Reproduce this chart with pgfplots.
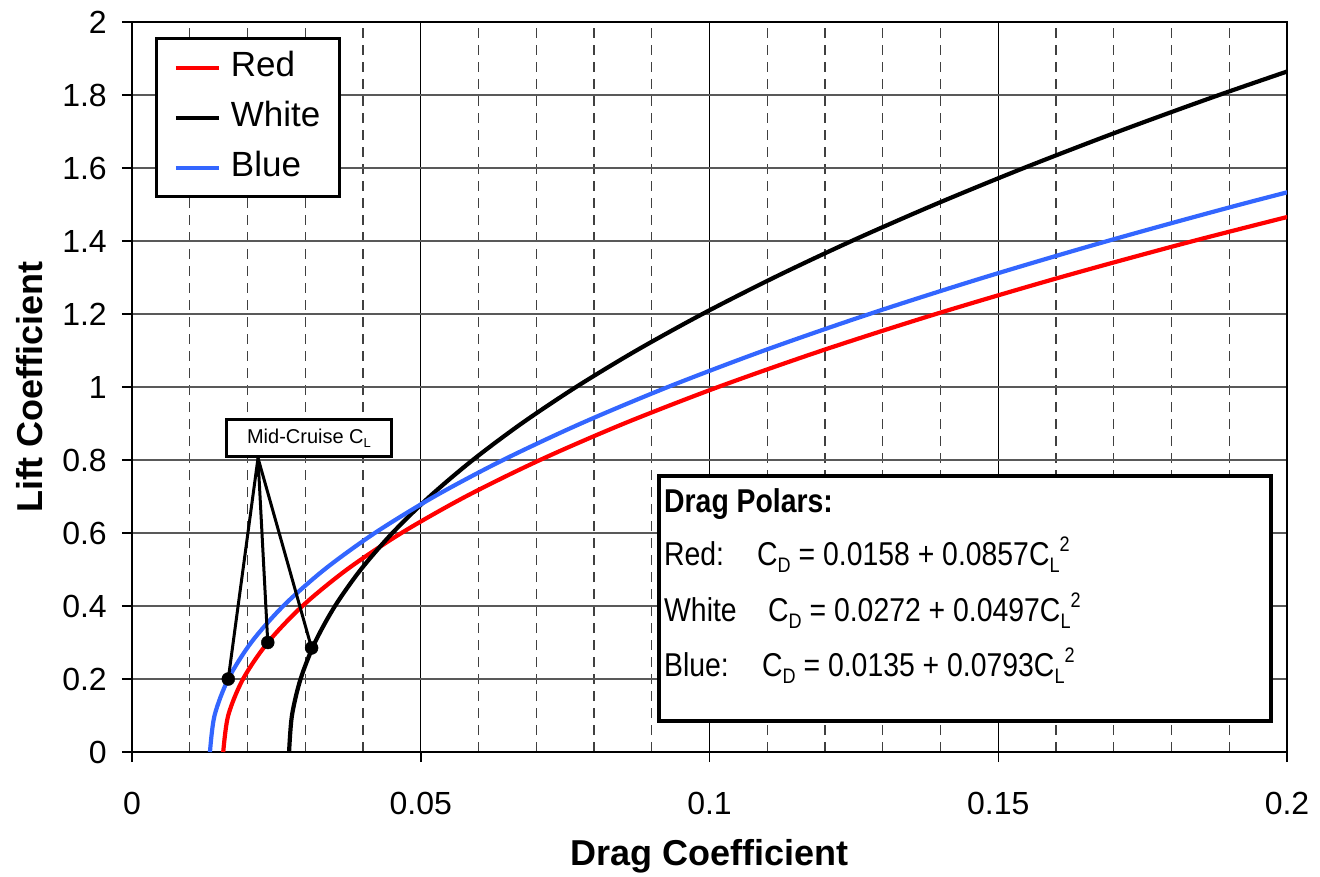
\documentclass[border=0pt]{standalone}
\usepackage{fontspec}
\setmainfont{Liberation Sans}
\newfontfamily\narrowfont[FakeStretch=0.86]{Liberation Sans}
\usepackage{pgfplots}
\pgfplotsset{compat=1.18}
\definecolor{cred}{RGB}{255,0,0}
\definecolor{cblue}{RGB}{51,102,255}
\newcommand\lo[1]{\raisebox{-7pt}{\fontsize{21}{21}\selectfont #1}}
\newcommand\hi[1]{\raisebox{14pt}{\fontsize{21}{21}\selectfont #1}}
\begin{document}
\begin{tikzpicture}
\begin{axis}[
  at={(0pt,0pt)}, anchor=south west,
  scale only axis, width=1155pt, height=730pt,
  xmin=0, xmax=0.2, ymin=0, ymax=2,
  xtick={0,0.05,0.1,0.15,0.2},
  xticklabels={0,0.05,0.1,0.15,0.2},
  minor xtick={0.01,0.02,0.03,0.04,0.06,0.07,0.08,0.09,0.11,0.12,0.13,0.14,0.16,0.17,0.18,0.19},
  ytick={0,0.2,0.4,0.6,0.8,1,1.2,1.4,1.6,1.8,2},
  yticklabels={0,0.2,0.4,0.6,0.8,1,1.2,1.4,1.6,1.8,2},
  tickpos=left, tick align=outside,
  major tick length=10pt, minor tick length=0pt,
  tick style={line width=1.5pt, black},
  xmajorgrids, xminorgrids, ymajorgrids,
  major x grid style={line width=1.3pt, black},
  minor x grid style={line width=1.3pt, black!75, dash pattern=on 10pt off 7pt},
  major y grid style={line width=1.3pt, black!65},
  axis line style={line width=1.8pt, black},
  ticklabel style={font=\fontsize{32}{38}\selectfont},
  yticklabel style={anchor=east, inner sep=0pt, xshift=-15pt},
  xticklabel style={anchor=north, inner sep=0pt, yshift=-30pt},
  xlabel={\bfseries Drag Coefficient},
  ylabel={\bfseries Lift Coefficient},
  label style={font=\fontsize{36}{42}\selectfont},
  xlabel style={at={(axis description cs:0.5,-0.156)}, anchor=base, inner sep=0pt},
  ylabel style={at={(axis description cs:-0.0779,0.5)}, anchor=base, inner sep=0pt},
  legend style={at={(axis description cs:0.0199,0.9795)}, anchor=north west,
    draw=black, line width=3.5pt, fill=white,
    font=\fontsize{35}{40}\selectfont,
    inner xsep=17pt, inner ysep=11pt, row sep=14pt, column sep=8pt,
    nodes={inner sep=2pt, text height=25pt, text depth=7pt}},
  legend cell align=left,
  legend image code/.code={\draw[#1] (0pt,0pt) -- (43pt,0pt);},
]
\addplot[cred, line width=4.2pt, smooth] coordinates {
(0.0158,0) (0.016657,0.1) (0.019228,0.2) (0.023513,0.3) (0.029512,0.4) (0.037225,0.5) (0.046652,0.6) (0.057793,0.7) (0.070648,0.8) (0.085217,0.9) (0.1015,1.0) (0.119497,1.1) (0.139208,1.2) (0.160633,1.3) (0.183772,1.4) (0.208625,1.5)};
\addlegendentry{Red}
\addplot[black, line width=4.2pt, smooth] coordinates {
(0.0272,0) (0.027697,0.1) (0.029188,0.2) (0.031673,0.3) (0.035152,0.4) (0.039625,0.5) (0.045092,0.6) (0.051553,0.7) (0.059008,0.8) (0.067457,0.9) (0.0769,1.0) (0.087337,1.1) (0.098768,1.2) (0.111193,1.3) (0.124612,1.4) (0.139025,1.5) (0.154432,1.6) (0.170833,1.7) (0.188228,1.8) (0.206617,1.9)};
\addlegendentry{White}
\addplot[cblue, line width=4.2pt, smooth] coordinates {
(0.0135,0) (0.014293,0.1) (0.016672,0.2) (0.020637,0.3) (0.026188,0.4) (0.033325,0.5) (0.042048,0.6) (0.052357,0.7) (0.064252,0.8) (0.077733,0.9) (0.0928,1.0) (0.109453,1.1) (0.127692,1.2) (0.147517,1.3) (0.168928,1.4) (0.191925,1.5) (0.216508,1.6)};
\addlegendentry{Blue}
% connectors
\draw[line width=3pt] (axis cs:0.01667,0.2) -- (axis cs:0.02182,0.8055) -- (axis cs:0.02351,0.3);
\draw[line width=3pt] (axis cs:0.02182,0.8055) -- (axis cs:0.0311,0.285);
\addplot[only marks, mark=*, mark size=6.5pt, black, forget plot] coordinates {(0.01667,0.2) (0.02351,0.3) (0.0311,0.285)};
% mid-cruise box
\node[draw=black, line width=3pt, fill=white, minimum width=165pt, minimum height=37pt, inner sep=0pt,
  font=\fontsize{20}{24}\selectfont] at (axis cs:0.03065,0.8603)
  {Mid-Cruise C\raisebox{-4pt}{\fontsize{13}{13}\selectfont L}};
% drag polars box
\node[draw=black, line width=4pt, fill=white, minimum width=612pt, minimum height=245pt, inner sep=0pt]
  at (axis cs:0.14424,0.4205) {};
\begin{scope}[every node/.style={anchor=base west, inner sep=0pt, font=\narrowfont\fontsize{33}{38}\selectfont}]
\node at (axis cs:0.09212,0.6575) {\bfseries Drag Polars:};
\node at (axis cs:0.09212,0.5123) {Red:};
\node at (axis cs:0.09212,0.3562) {White};
\node at (axis cs:0.09212,0.2055) {Blue:};
\node at (axis cs:0.10823,0.5123) {C\lo{D} = 0.0158 + 0.0857C\lo{L}\hi{2}};
\node at (axis cs:0.11013,0.3562) {C\lo{D} = 0.0272 + 0.0497C\lo{L}\hi{2}};
\node at (axis cs:0.10909,0.2055) {C\lo{D} = 0.0135 + 0.0793C\lo{L}\hi{2}};
\end{scope}
\end{axis}
\pgfresetboundingbox
\path (-132pt,-124pt) rectangle (1188pt,752pt);
\end{tikzpicture}
\end{document}
